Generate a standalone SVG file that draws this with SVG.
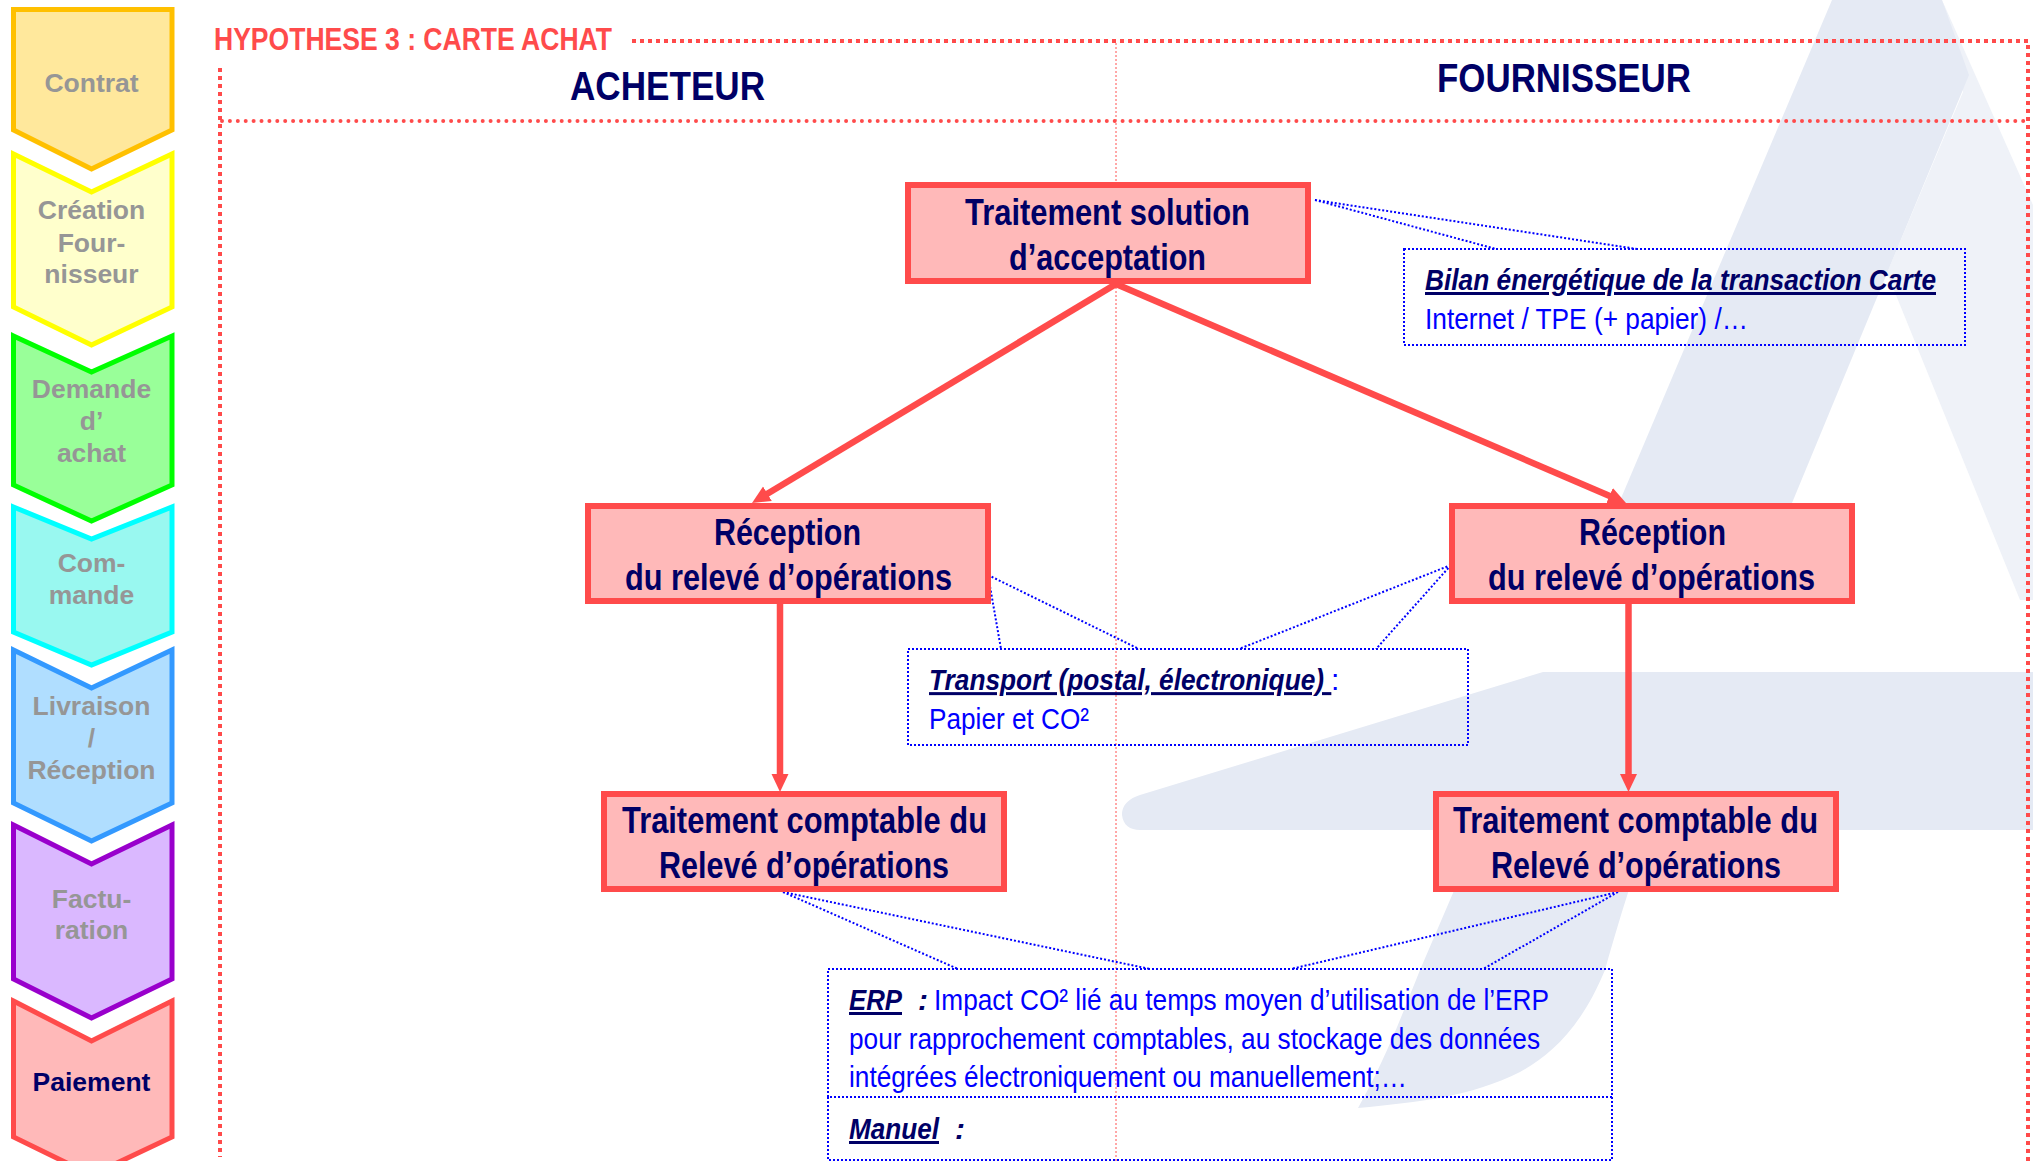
<svg xmlns="http://www.w3.org/2000/svg" width="2033" height="1161" viewBox="0 0 2033 1161">
<style>
text{font-family:"Liberation Sans",Arial,sans-serif;white-space:pre}
.chev{stroke-width:5;stroke-miterlimit:10}
.ct{font-size:26.5px;font-weight:bold;fill:#969696;text-anchor:middle}
.box{fill:#ffb9b9;stroke:#ff4b4b;stroke-width:6}
.bt{font-size:36px;font-weight:bold;fill:#000066}
.head{font-size:41px;font-weight:bold;fill:#000066}
.note{fill:none;stroke:#0000ff;stroke-width:2;stroke-dasharray:2 2}
.nb{font-size:30px;font-weight:bold;font-style:italic;fill:#000066}
.nu{text-decoration:underline}
.nt{font-size:30px;fill:#0000ff}
.flow{stroke:#ff4b4b;stroke-width:6.500;fill:none}
.sq{stroke:#ff4b4b;stroke-width:4;stroke-dasharray:4 4;fill:none}
.rd{stroke:#ff4b4b;stroke-width:4;stroke-dasharray:0 7.9;stroke-linecap:round;fill:none}
.thin{stroke:#ff5050;stroke-width:1;stroke-dasharray:2 2;fill:none}
</style>
<defs>
<marker id="ah" markerUnits="userSpaceOnUse" markerWidth="20" markerHeight="20" viewBox="0 0 20 20" refX="6" refY="10" orient="auto"><path d="M0 1.500L18 10L0 18.500Z" fill="#ff4b4b"/></marker>
</defs>
<g id="background">
<path fill="#eff2f8" d="M1942 0L2033 205V600H2020L1887 273L1963 92Z"/>
<path fill="#e5eaf4" d="M1832 0H1942L1969 75L1792 503L1750 601H1578L1619 503Z"/>
<path fill="#e5eaf4" d="M1543 672H2033V830H1650C1635 870 1625 900 1605 970C1580 1030 1550 1055 1520 1072C1470 1097 1420 1102 1358 1108C1385 1060 1400 1020 1420 970L1480 830H1140C1130 830 1123 825 1122 815C1122 808 1125 800 1140 795Z"/>
</g>
<g id="frame">
<path class="sq" d="M632 41H2028V1161"/>
<path class="sq" d="M220 68V1157"/>
<path class="rd" d="M222 121H2026"/>
<path class="thin" d="M1116 43V1161"/>
</g>
<text id="title" x="214" y="50" font-size="32" font-weight="bold" fill="#ff4b4b" textLength="398" lengthAdjust="spacingAndGlyphs">HYPOTHESE 3 : CARTE ACHAT</text>
<text id="acheteur" class="head" x="570" y="100" textLength="195" lengthAdjust="spacingAndGlyphs">ACHETEUR</text>
<text id="fournisseur" class="head" x="1437" y="92" textLength="254" lengthAdjust="spacingAndGlyphs">FOURNISSEUR</text>

<g id="step-contrat"><path class="chev" fill="#ffe89c" stroke="#ffc000" d="M13.500 9.500H172V130L91.500 169L13.500 130Z"/><text class="ct" x="91.500" y="92">Contrat</text></g>
<g id="step-creation"><path class="chev" fill="#ffffcc" stroke="#ffff00" d="M13.500 154L91.500 192L172 154V307L91.500 345L13.500 307Z"/><text class="ct" x="91.500" y="219">Création</text><text class="ct" x="91.500" y="252">Four-</text><text class="ct" x="91.500" y="283">nisseur</text></g>
<g id="step-demande"><path class="chev" fill="#99ff99" stroke="#00ff00" d="M13.500 336L91.500 372L172 336V485L91.500 521L13.500 485Z"/><text class="ct" x="91.500" y="398">Demande</text><text class="ct" x="91.500" y="430">d’</text><text class="ct" x="91.500" y="462">achat</text></g>
<g id="step-commande"><path class="chev" fill="#99f8f0" stroke="#00ffff" d="M13.500 507L91.500 539L172 507V632L91.500 665L13.500 632Z"/><text class="ct" x="91.500" y="572">Com-</text><text class="ct" x="91.500" y="604">mande</text></g>
<g id="step-livraison"><path class="chev" fill="#b0deff" stroke="#3399ff" d="M13.500 650L91.500 688L172 650V803L91.500 841L13.500 803Z"/><text class="ct" x="91.500" y="715">Livraison</text><text class="ct" x="91.500" y="747">/</text><text class="ct" x="91.500" y="779">Réception</text></g>
<g id="step-facturation"><path class="chev" fill="#dab8ff" stroke="#9900cc" d="M13.500 825L91.500 864L172 825V979L91.500 1018L13.500 979Z"/><text class="ct" x="91.500" y="908">Factu-</text><text class="ct" x="91.500" y="939">ration</text></g>
<g id="step-paiement"><path class="chev" fill="#ffb9b9" stroke="#ff4b4b" d="M13.500 1001L91.500 1041L172 1001V1137L91.500 1175L13.500 1137Z"/><text class="ct" x="91.500" y="1091" style="fill:#000066">Paiement</text></g>

<g id="connectors">
<path class="flow" marker-end="url(#ah)" d="M1116 284L762.300 496.800"/>
<path class="flow" marker-end="url(#ah)" d="M1116 284L1615 498.300"/>
<path class="flow" marker-end="url(#ah)" d="M780 604V780"/>
<path class="flow" marker-end="url(#ah)" d="M1628.500 604V780"/>
<path class="note" d="M1315 200L1496 249M1315 200L1637 249"/>
<path class="note" d="M988 575L1001 649M988 575L1139 649M1451 565L1239 649M1451 565L1376 649"/>
<path class="note" d="M783 892L958 969M783 892L1150 969M1618 892L1291 969M1618 892L1483 969"/>
</g>

<g id="node-acceptation"><rect class="box" x="908" y="185" width="400" height="96"/><text class="bt" x="965" y="225" textLength="285" lengthAdjust="spacingAndGlyphs">Traitement solution</text><text class="bt" x="1009" y="270" textLength="197" lengthAdjust="spacingAndGlyphs">d’acceptation</text></g>
<g id="node-reception-a"><rect class="box" x="588" y="506" width="400" height="95"/><text class="bt" x="714" y="545" textLength="147" lengthAdjust="spacingAndGlyphs">Réception</text><text class="bt" x="625" y="590" textLength="327" lengthAdjust="spacingAndGlyphs">du relevé d’opérations</text></g>
<g id="node-reception-f"><rect class="box" x="1452" y="506" width="400" height="95"/><text class="bt" x="1579" y="545" textLength="147" lengthAdjust="spacingAndGlyphs">Réception</text><text class="bt" x="1488" y="590" textLength="327" lengthAdjust="spacingAndGlyphs">du relevé d’opérations</text></g>
<g id="node-comptable-a"><rect class="box" x="604" y="794" width="400" height="95"/><text class="bt" x="622" y="833" textLength="365" lengthAdjust="spacingAndGlyphs">Traitement comptable du</text><text class="bt" x="659" y="878" textLength="290" lengthAdjust="spacingAndGlyphs">Relevé d’opérations</text></g>
<g id="node-comptable-f"><rect class="box" x="1436" y="794" width="400" height="95"/><text class="bt" x="1453" y="833" textLength="365" lengthAdjust="spacingAndGlyphs">Traitement comptable du</text><text class="bt" x="1491" y="878" textLength="290" lengthAdjust="spacingAndGlyphs">Relevé d’opérations</text></g>

<g id="note-bilan"><rect class="note" x="1404" y="249" width="561" height="96"/><text class="nb nu" x="1425" y="290" textLength="511" lengthAdjust="spacingAndGlyphs">Bilan énergétique de la transaction Carte</text><text class="nt" x="1425" y="329" textLength="323" lengthAdjust="spacingAndGlyphs">Internet / TPE (+ papier) /…</text></g>
<g id="note-transport"><rect class="note" x="908" y="649" width="560" height="96"/><text class="nb nu" transform="translate(929 690) scale(.876 1)">Transport (postal, électronique) </text><text class="nt" x="1331" y="690">:</text><text class="nt" x="929" y="729" textLength="160" lengthAdjust="spacingAndGlyphs">Papier et CO²</text></g>
<g id="note-erp"><rect class="note" x="828" y="969" width="784" height="128"/><path class="note" d="M828 1097V1160H1612V1097"/>
<text class="nb nu" x="849" y="1010" textLength="53" lengthAdjust="spacingAndGlyphs">ERP</text><text class="nb" x="918" y="1010">:</text><text class="nt" x="934" y="1010" textLength="615" lengthAdjust="spacingAndGlyphs">Impact CO² lié au temps moyen d’utilisation de l’ERP</text><text class="nt" x="849" y="1049" textLength="691" lengthAdjust="spacingAndGlyphs">pour rapprochement comptables, au stockage des données</text><text class="nt" x="849" y="1087" textLength="558" lengthAdjust="spacingAndGlyphs">intégrées électroniquement ou manuellement;…</text>
<text class="nb nu" x="849" y="1139" textLength="90" lengthAdjust="spacingAndGlyphs">Manuel</text><text class="nb" x="955" y="1139">:</text></g>
</svg>
